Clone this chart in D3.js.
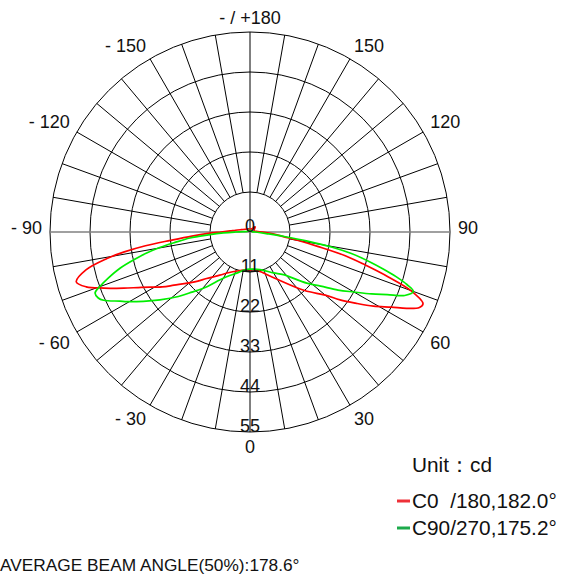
<!DOCTYPE html>
<html lang="en">
<head>
  <meta charset="UTF-8" />
  <title>Polar Intensity Diagram</title>
  <style>
    body { margin: 0; background: #fff; }
    svg { display: block; font-family: Arial, 'Liberation Sans', sans-serif; }
    .grid { fill: none; stroke: #000; stroke-width: 1; }
    .axis-h { stroke: #808080; stroke-width: 1.5; }
    .curve { fill: none; stroke-width: 1.7; stroke-linejoin: round; }
    .lbl { font-size: 18px; fill: #111; }
    .legend { font-size: 20.8px; fill: #111; white-space: pre; }
    .footer { font-size: 17.3px; fill: #111; }
  </style>
</head>
<body>
  <script src="https://d3js.org/d3.v7.min.js"></script>
  <script>
    // --- data (angle in degrees from nadir, value in cd)
    const c0Angles = [-180,-150,-120,-105,-97,-93,-90,-88,-86,-84,-82.5,-81,-79.5,-77,-74,-71.5,-69,-66,-63,-58,-55,-48,-43,-35,-27,-15,-8,
                      0,5,14,30,43,50,53,56,59,62,64,66,67.5,70,72,74,76,78,80,82,86,90,95,110,135,150];
    const c0Values = [0.8,1,1.5,2.5,4,5.5,8,11.5,16,22,29,35,40,46.3,49.7,47.5,43,38,33.5,28.5,25.5,20.5,17.5,14.5,12.5,11,10.5,
                      10.5,10.4,11.2,15,22,27,31,35,39.6,44,47.9,51,51.5,47,40,33,27,19,13.5,9.5,6,3.5,1.8,1.2,2,1];

    const c90Angles = [-180,-120,-100,-93,-90,-88,-86,-84.3,-82,-80.3,-78.5,-77,-74.5,-72,-70,-68.5,-66.5,-65,-62,-60.5,-57,-53,-48,-44,-38,-32,-25,-18,-8,
                       0,15,30,38,48,52.6,56.6,60,63,65.5,67.7,70,71.5,73,74.5,76,78,79.5,81,82.5,84.5,87,90,100];
    const c90Values = [0.5,0.5,0.8,2,4,7.3,11.5,16.6,21,25,29,32,37,41,44,45.8,45.5,44.4,40.5,38.9,35,31,26.5,23,19,15.5,13.2,11.9,10.5,
                       10.2,10.7,13,14.9,21,24.5,29,33,37.5,41.5,46,47.8,45.5,42,38,34,28.5,23,16,9.5,4.5,2.5,1.5,0.6];

    const radialTicks = [0, 11, 22, 33, 44, 55];
    const angleTicks = [180, 150, 120, 90, 60, 30, 0, -30, -60, -90, -120, -150];
    const angleLabels = ["- / +180", "150", "120", "90", "60", "30", "0", "- 30", "- 60", "- 90", "- 120", "- 150"];

    const seriesNames = ["C0\u00a0\u00a0/180,182.0°", "C90/270,175.2°"];
    const unitLabel = "Unit\uff1acd";
    const footer = "AVERAGE BEAM ANGLE(50%):178.6°";

    // --- setup
    const W = 562, H = 577, cx = 250, cy = 232;
    const svg = d3.select("body").append("svg").attr("width", W).attr("height", H);
    const g = svg.append("g").attr("transform", `translate(${cx},${cy})`);

    const r = d3.scaleLinear().domain([0, 55]).range([0, 200]);
    const rad = d => d * Math.PI / 180;
    // 0 deg points down, positive to the right
    const px = (a, v) => r(v) * Math.sin(rad(a));
    const py = (a, v) => r(v) * Math.cos(rad(a));

    // rings
    g.selectAll("circle.grid").data(radialTicks.slice(1))
      .join("circle").attr("class", "grid").attr("r", d => r(d));

    // spokes every 10 deg, from the first ring outwards
    const spokes = d3.range(-170, 181, 10).filter(a => a % 90 !== 0);
    g.selectAll("line.spoke").data(spokes)
      .join("line").attr("class", "grid spoke")
      .attr("x1", a => px(a, 11)).attr("y1", a => py(a, 11))
      .attr("x2", a => px(a, 55)).attr("y2", a => py(a, 55));

    // axes through the centre
    g.append("line").attr("class", "grid")
      .attr("x1", 0).attr("y1", py(180, 55)).attr("x2", 0).attr("y2", py(0, 55));
    g.append("line").attr("class", "axis-h")
      .attr("x1", px(-90, 55)).attr("y1", 0).attr("x2", px(90, 55)).attr("y2", 0);

    // curves
    const line = d3.lineRadial()
      .angle(d => Math.PI - rad(d.a))
      .radius(d => r(d.v))
      .curve(d3.curveCatmullRomClosed.alpha(0.5));

    const series = [
      { pts: c0Angles.map((a, i) => ({ a, v: c0Values[i] })), color: "#ff0000" },
      { pts: c90Angles.map((a, i) => ({ a, v: c90Values[i] })), color: "#00ee00" }
    ];
    g.selectAll("path.curve").data(series)
      .join("path").attr("class", "curve")
      .attr("stroke", d => d.color)
      .attr("d", d => line(d.pts));

    // radial tick labels down the nadir axis
    g.selectAll("text.rt").data(radialTicks)
      .join("text").attr("class", "lbl rt")
      .attr("text-anchor", "middle")
      .attr("x", 0).attr("y", d => r(d))
      .text(d => d);

    // angle labels
    const lr = r(55) + 8;
    g.selectAll("text.at").data(angleTicks)
      .join("text").attr("class", "lbl at")
      .attr("x", a => lr * Math.sin(rad(a)))
      .attr("y", a => lr * Math.cos(rad(a)))
      .attr("text-anchor", a => (a === 0 || a === 180) ? "middle" : (a > 0 ? "start" : "end"))
      .attr("dy", a => Math.abs(a) === 90 ? "0.12em" : (Math.abs(a) < 90 ? "0.72em" : "0"))
      .text((a, i) => angleLabels[i]);

    // legend
    svg.append("text").attr("class", "legend").attr("x", 412).attr("y", 472).text(unitLabel);
    const leg = svg.selectAll("g.leg").data(series)
      .join("g").attr("class", "leg")
      .attr("transform", (d, i) => `translate(397,${501 + i * 27})`);
    leg.append("line").attr("x1", 0).attr("x2", 13).attr("y1", 0).attr("y2", 0)
      .attr("stroke", (d, i) => ["#ee3038", "#1daa4b"][i]).attr("stroke-width", 3);
    leg.append("text").attr("class", "legend").attr("x", 15).attr("y", 7)
      .text((d, i) => seriesNames[i]);

    svg.append("text").attr("class", "footer").attr("x", 0).attr("y", 571).text(footer);
  </script>
</body>
</html>
